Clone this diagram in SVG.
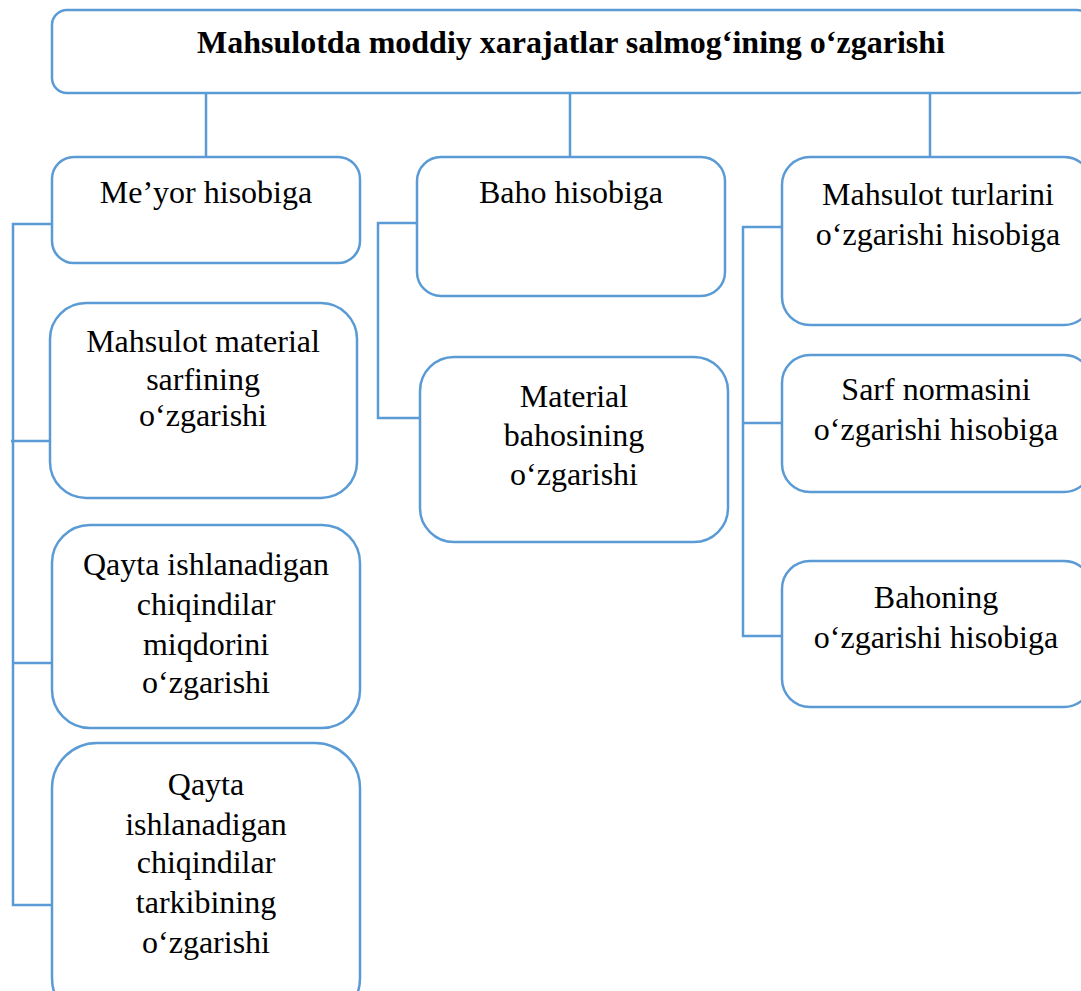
<svg xmlns="http://www.w3.org/2000/svg" width="1081" height="991" viewBox="0 0 1081 991">
<style>
.box{fill:#fff;stroke:#5B9BD5;stroke-width:2.5}
.ln{fill:none;stroke:#5B9BD5;stroke-width:2.5}
text{font-family:"Liberation Serif","Times New Roman",serif;font-size:32px;fill:#000;text-anchor:middle}
.title{font-weight:bold}
</style>
<rect width="1081" height="991" fill="#fff"/>
<g id="connectors">
<path class="ln" d="M206,93V157M570,93V157M930,93V158"/>
<path class="ln" d="M52,224H13V905H52M11,441H50M13,663H52"/>
<path class="ln" d="M417,223H378V418H420"/>
<path class="ln" d="M782,227H743V636H782M743,423H782"/>
</g>
<g id="n-title"><rect class="box" x="52" y="10" width="1040" height="83" rx="15"/><text class="title" x="571" y="53">Mahsulotda moddiy xarajatlar salmog‘ining o‘zgarishi</text></g>
<g id="n-meyor"><rect class="box" x="52" y="157" width="308" height="106" rx="22"/><text x="206" y="203">Me’yor hisobiga</text></g>
<g id="n-sarf"><rect class="box" x="50" y="303" width="307" height="195" rx="36"/><text x="203" y="352">Mahsulot material</text><text x="203" y="390">sarfining</text><text x="203" y="426">o‘zgarishi</text></g>
<g id="n-miqdor"><rect class="box" x="52" y="525" width="308" height="203" rx="38"/><text x="206" y="575">Qayta ishlanadigan</text><text x="206" y="615">chiqindilar</text><text x="206" y="655">miqdorini</text><text x="206" y="693">o‘zgarishi</text></g>
<g id="n-tarkib"><rect class="box" x="52" y="743" width="308" height="280" rx="45"/><text x="206" y="795">Qayta</text><text x="206" y="835">ishlanadigan</text><text x="206" y="873">chiqindilar</text><text x="206" y="913">tarkibining</text><text x="206" y="953">o‘zgarishi</text></g>
<g id="n-baho"><rect class="box" x="417" y="157" width="308" height="139" rx="24"/><text x="571" y="203">Baho hisobiga</text></g>
<g id="n-matbaho"><rect class="box" x="420" y="357" width="308" height="185" rx="34"/><text x="574" y="407">Material</text><text x="574" y="446">bahosining</text><text x="574" y="485">o‘zgarishi</text></g>
<g id="n-turlar"><rect class="box" x="782" y="157" width="310" height="168" rx="28"/><text x="938" y="205">Mahsulot turlarini</text><text x="938" y="245">o‘zgarishi hisobiga</text></g>
<g id="n-norma"><rect class="box" x="782" y="355" width="310" height="137" rx="28"/><text x="936" y="400">Sarf normasini</text><text x="936" y="440">o‘zgarishi hisobiga</text></g>
<g id="n-bahoning"><rect class="box" x="782" y="561" width="310" height="146" rx="28"/><text x="936" y="608">Bahoning</text><text x="936" y="648">o‘zgarishi hisobiga</text></g>
</svg>
